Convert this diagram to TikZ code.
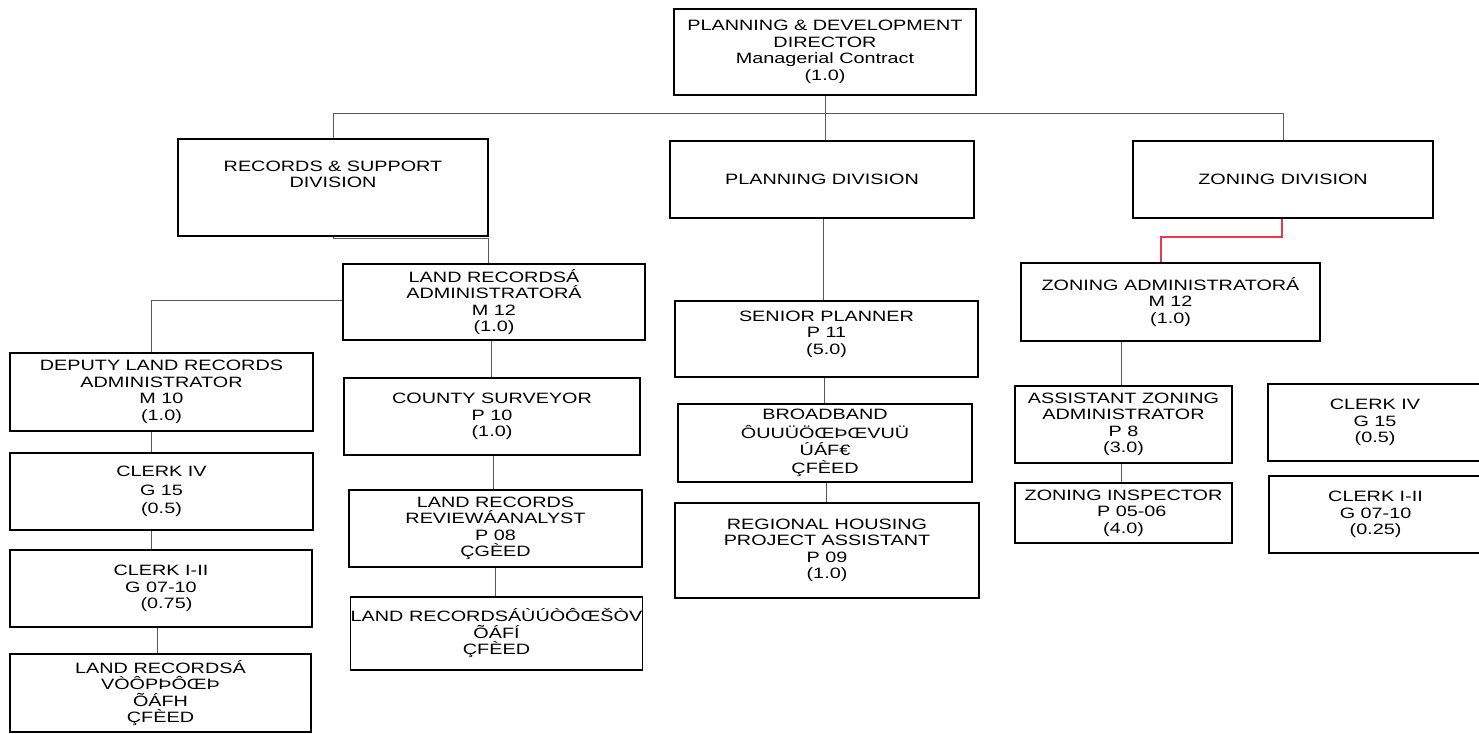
\documentclass[tikz,border=0pt]{standalone}
\usepackage{fontspec}
\setmainfont{Liberation Sans}[FakeStretch=1.32]
\tikzset{
  bx/.style={draw=black,line width=1.4pt,rectangle,inner sep=0pt,align=center,font=\fontsize{15}{16.5}\selectfont},
  cn/.style={draw=black!65,line width=1pt},
  rcn/.style={draw={rgb,255:red,235;green,55;blue,80},line width=1.3pt}
}
\newcommand\orgbox[6]{\node[bx,minimum width={(#4-#2)*1pt},minimum height={(#5-#3)*1pt}] (#1) at ({(#2+#4)/2},{(#3+#5)/2}) {#6};}
\begin{document}
\begin{tikzpicture}[x=1pt,y=-1pt]
\fill[white] (0,0) rectangle (1479,733);
\useasboundingbox (0,0) rectangle (1479,733);
\orgbox{dir}{674}{9}{976}{95}{PLANNING \& DEVELOPMENT\\DIRECTOR\\Managerial Contract\\(1.0)}
\orgbox{rs}{178}{139}{488}{236}{RECORDS \& SUPPORT\\DIVISION\\[10pt]\mbox{}}
\orgbox{pd}{670}{141}{974}{218}{PLANNING DIVISION}
\orgbox{zd}{1133}{141}{1433}{218}{ZONING DIVISION}
\orgbox{lra}{343}{264}{645}{340}{LAND RECORDSÁ\\ADMINISTRATORÁ\\M 12\\(1.0)}
\orgbox{za}{1021}{263}{1320}{341}{ZONING ADMINISTRATORÁ\\M 12\\(1.0)}
\orgbox{dep}{10}{353}{313}{431}{DEPUTY LAND RECORDS\\ADMINISTRATOR\\M 10\\(1.0)}
\orgbox{ckl}{10}{453}{313}{530}{CLERK IV\\[2pt]G 15\\[2pt](0.5)}
\orgbox{cil}{10}{550}{312}{627}{CLERK I-II\\G 07-10\\\ \ (0.75)}
\orgbox{lrt}{10}{654}{311}{732}{LAND RECORDSÁ\\VÒÔPÞÔŒÞ\\ÕÁFH\\ÇFÈED}
\orgbox{cs}{344}{378}{640}{455}{COUNTY SURVEYOR\\P 10\\(1.0)}
\orgbox{rev}{349}{490}{642}{567}{LAND RECORDS\\REVIEWÁANALYST\\P 08\\ÇGÈED}
\orgbox{lrx}{351}{597}{642}{670}{LAND RECORDSÁÙÚÒÔŒŠÒV\\ÕÁFÍ\\ÇFÈED}
\orgbox{sp}{675}{301}{978}{377}{SENIOR PLANNER\\P 11\\(5.0)\\[-4pt]\mbox{}}
\orgbox{bb}{678}{404}{972}{482}{BROADBAND\\[2pt]ÔUUÜÖŒÞŒVUÜ\\[1pt]ÚÁF€\\[1pt]ÇFÈED}
\orgbox{rh}{675}{503}{979}{598}{REGIONAL HOUSING\\PROJECT ASSISTANT\\P 09\\(1.0)}
\orgbox{azd}{1015}{386}{1232}{463}{ASSISTANT ZONING\\ADMINISTRATOR\\P 8\\(3.0)}
\orgbox{zi}{1015}{483}{1232}{543}{ZONING INSPECTOR\\\ \ \ P 05-06\\(4.0)}
\orgbox{ckr}{1268}{384}{1482}{461}{CLERK IV\\G 15\\(0.5)}
\orgbox{cir}{1269}{476}{1482}{553}{CLERK I-II\\G 07-10\\(0.25)}
% connectors
\draw[cn] (dir.south) -- (dir.south |- pd.north);
\coordinate (t1) at (333,114);
\coordinate (t2) at (1283,114);
\draw[cn] (t1 |- rs.north) -- (t1) -- (t2) -- (t2 |- zd.north);
\coordinate (r1) at (488,238);
\draw[cn] (rs.south) -- (rs.south |- r1) -- (r1) -- (r1 |- lra.north);
\coordinate (l1) at (151,300);
\draw[cn] (l1 -| lra.west) -- (l1) -- (l1 |- dep.north);
\coordinate (lx) at (151,0);
\draw[cn] (lx |- dep.south) -- (lx |- ckl.north);
\draw[cn] (lx |- ckl.south) -- (lx |- cil.north);
\coordinate (ly) at (157,0);
\draw[cn] (ly |- cil.south) -- (ly |- lrt.north);
\coordinate (m1) at (491,0);
\draw[cn] (m1 |- lra.south) -- (m1 |- cs.north);
\coordinate (m2) at (493,0);
\draw[cn] (m2 |- cs.south) -- (m2 |- rev.north);
\coordinate (m3) at (495,0);
\draw[cn] (m3 |- rev.south) -- (m3 |- lrx.north);
\coordinate (p1) at (823,0);
\draw[cn] (p1 |- pd.south) -- (p1 |- sp.north);
\coordinate (p2) at (824,0);
\draw[cn] (p2 |- sp.south) -- (p2 |- bb.north);
\coordinate (p3) at (826,0);
\draw[cn] (p3 |- bb.south) -- (p3 |- rh.north);
\coordinate (z1) at (1282,237);
\coordinate (z2) at (1161,237);
\draw[rcn] (z1 |- zd.south) -- (z1) -- (z2) -- (z2 |- za.north);
\coordinate (z3) at (1121,0);
\draw[cn] (z3 |- za.south) -- (z3 |- azd.north);
\draw[cn] (z3 |- azd.south) -- (z3 |- zi.north);
\end{tikzpicture}
\end{document}
